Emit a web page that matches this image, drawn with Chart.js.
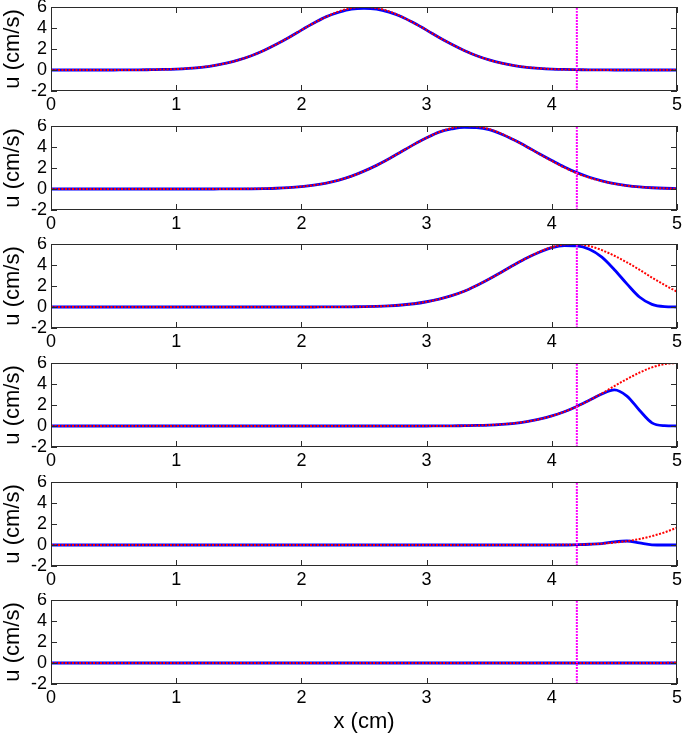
<!DOCTYPE html>
<html>
<head>
<meta charset="utf-8">
<script src="https://cdn.jsdelivr.net/npm/chart.js@4.4.0/dist/chart.umd.min.js"></script>
<style>
  body { margin: 0; background: #fff; width: 682px; height: 737px; overflow: hidden; position: relative; }
  .panel { position: absolute; left: 0; width: 682px; }
</style>
</head>
<body>
<script>
// x positions (cm)
const xs = [0,0.1,0.2,0.3,0.4,0.5,0.6,0.7,0.8,0.9,1,1.1,1.2,1.3,1.4,1.5,1.6,1.7,1.8,1.9,2,
  2.1,2.2,2.3,2.4,2.5,2.6,2.7,2.8,2.9,3,3.1,3.2,3.3,3.4,3.5,3.6,3.7,3.8,3.9,4,
  4.1,4.2,4.3,4.4,4.5,4.6,4.7,4.8,4.9,5];
const xTicks = [0, 1, 2, 3, 4, 5];
const yTicks = [-2, 0, 2, 4, 6];
const markerX = 4.2;

// u (cm/s), blue = solid, red = dotted
const p1Blue = [0,0,0,0,0,0,0.01,0.01,0.03,0.05,0.09,0.16,0.26,0.42,0.65,0.96,1.36,1.86,2.45,3.1,3.8,
  4.47,5.08,5.5,5.8,5.88,5.8,5.52,5.08,4.47,3.8,3.1,2.45,1.86,1.36,0.96,0.65,0.42,0.26,0.16,0.09,
  0.05,0.03,0.01,0.01,0,0,0,0,0,0];
const p1Red = [0,0,0,0,0,0,0.01,0.01,0.03,0.05,0.09,0.16,0.26,0.42,0.65,0.96,1.36,1.86,2.45,3.1,3.8,
  4.47,5.08,5.58,5.9,6,5.9,5.58,5.08,4.47,3.8,3.1,2.45,1.86,1.36,0.96,0.65,0.42,0.26,0.16,0.09,
  0.05,0.03,0.01,0.01,0,0,0,0,0,0];
const p2Blue = [0,0,0,0,0,0,0,0,0,0,0,0,0,0,0.01,0.01,0.02,0.04,0.07,0.13,0.23,
  0.37,0.57,0.85,1.22,1.7,2.25,2.88,3.57,4.25,4.88,5.42,5.72,5.88,5.85,5.65,5.22,4.66,4.03,3.36,2.72,
  2.1,1.56,1.12,0.78,0.52,0.33,0.2,0.12,0.07,0.04];
const p2Red = [0,0,0,0,0,0,0,0,0,0,0,0,0,0,0.01,0.01,0.02,0.04,0.07,0.13,0.23,
  0.37,0.57,0.85,1.22,1.7,2.25,2.88,3.57,4.25,4.88,5.42,5.8,5.99,5.95,5.7,5.25,4.67,4.02,3.33,2.67,
  2.05,1.5,1.08,0.75,0.5,0.31,0.19,0.11,0.06,0.03];
const p3Blue = [0,0,0,0,0,0,0,0,0,0,0,0,0,0,0,0,0,0,0,0,0,
  0,0.01,0.01,0.02,0.03,0.06,0.11,0.19,0.31,0.5,0.75,1.08,1.5,2.05,2.67,3.33,4.02,4.67,5.22,5.65,
  5.85,5.82,5.5,4.75,3.55,2.2,0.95,0.25,0.03,0];
const p3Red = [0,0,0,0,0,0,0,0,0,0,0,0,0,0,0,0,0,0,0,0,0,
  0,0.01,0.01,0.02,0.03,0.06,0.11,0.19,0.31,0.5,0.75,1.08,1.5,2.05,2.67,3.33,4.02,4.67,5.25,5.7,
  5.95,5.99,5.8,5.42,4.88,4.25,3.55,2.8,2.1,1.45];
const p4Blue = [0,0,0,0,0,0,0,0,0,0,0,0,0,0,0,0,0,0,0,0,0,
  0,0,0,0,0,0,0,0,0,0,0.01,0.01,0.03,0.05,0.09,0.16,0.26,0.42,0.65,0.96,
  1.36,1.86,2.45,3.05,3.45,2.85,1.5,0.3,0.03,0];
const p4Red = [0,0,0,0,0,0,0,0,0,0,0,0,0,0,0,0,0,0,0,0,0,
  0,0,0,0,0,0,0,0,0,0,0.01,0.01,0.03,0.05,0.09,0.16,0.26,0.42,0.65,0.96,
  1.36,1.86,2.45,3.1,3.8,4.47,5.08,5.58,5.9,6];
const p5Blue = [0,0,0,0,0,0,0,0,0,0,0,0,0,0,0,0,0,0,0,0,0,
  0,0,0,0,0,0,0,0,0,0,0,0,0,0,0,0,0,0,0,0,
  0,0.03,0.07,0.14,0.3,0.38,0.2,0.02,0,0];
const p5Red = [0,0,0,0,0,0,0,0,0,0,0,0,0,0,0,0,0,0,0,0,0,
  0,0,0,0,0,0,0,0,0,0,0,0,0,0,0,0,0,0,0,0.01,
  0.02,0.04,0.07,0.13,0.23,0.37,0.57,0.85,1.2,1.65];
const p6Blue = [0,0,0,0,0,0,0,0,0,0,0,0,0,0,0,0,0,0,0,0,0,
  0,0,0,0,0,0,0,0,0,0,0,0,0,0,0,0,0,0,0,0,
  0,0,0,0,0,0,0,0,0,0];
const p6Red = [0,0,0,0,0,0,0,0,0,0,0,0,0,0,0,0,0,0,0,0,0,
  0,0,0,0,0,0,0,0,0,0,0,0,0,0,0,0,0,0,0,0,
  0,0,0,0,0,0,0,0,0.01,0.02,0.03];

const panels = [[p1Blue, p1Red], [p2Blue, p2Red], [p3Blue, p3Red],
                [p4Blue, p4Red], [p5Blue, p5Red], [p6Blue, p6Red]];

const tops = [7, 126, 244, 363, 482, 600];
const plotH = 84;
const fontFam = "'Liberation Sans', Arial, sans-serif";

function pts(vals) {
  return xs.map((x, i) => ({ x: x, y: vals[i] }));
}

// matlab-ish box with inward ticks
const boxPlugin = {
  id: 'box',
  afterDraw(chart) {
    const { ctx, chartArea: a, scales } = chart;
    ctx.save();
    ctx.strokeStyle = '#2b2b2b';
    ctx.lineWidth = 1;
    ctx.strokeRect(a.left + 0.5, a.top + 0.5, a.right - a.left - 1, a.bottom - a.top - 1);
    ctx.beginPath();
    xTicks.forEach(v => {
      const px = Math.round(scales.x.getPixelForValue(v)) + 0.5;
      ctx.moveTo(px, a.bottom); ctx.lineTo(px, a.bottom - 6);
      ctx.moveTo(px, a.top); ctx.lineTo(px, a.top + 6);
    });
    yTicks.forEach(v => {
      const py = Math.round(scales.y.getPixelForValue(v)) + 0.5;
      ctx.moveTo(a.left, py); ctx.lineTo(a.left + 6, py);
      ctx.moveTo(a.right, py); ctx.lineTo(a.right - 6, py);
    });
    ctx.stroke();
    ctx.restore();
  }
};

panels.forEach((pair, k) => {
  const last = k === panels.length - 1;
  const h = last ? 143 : 121;
  const div = document.createElement('div');
  div.className = 'panel';
  div.style.top = (tops[k] - 7) + 'px';
  div.style.height = h + 'px';
  const cv = document.createElement('canvas');
  cv.width = 682; cv.height = h;
  div.appendChild(cv);
  document.body.appendChild(div);

  new Chart(cv, {
    type: 'line',
    data: {
      datasets: [
        { data: pts(pair[0]), borderColor: '#0000ff', borderWidth: 2.8, order: 2 },
        { data: pts(pair[1]), borderColor: '#ff0000', borderWidth: 2, borderDash: [2, 1.5], order: 1 },
        { data: [{ x: markerX, y: yTicks[0] }, { x: markerX, y: yTicks[yTicks.length - 1] }],
          borderColor: '#ff00ff', borderWidth: 2, borderDash: [2, 1], order: 0 }
      ]
    },
    options: {
      responsive: false,
      animation: false,
      devicePixelRatio: 1,
      layout: { padding: { top: 7, right: 5, left: 0, bottom: 0 } },
      elements: {
        point: { radius: 0 },
        line: { cubicInterpolationMode: 'monotone', fill: false }
      },
      plugins: { legend: { display: false }, tooltip: { enabled: false } },
      scales: {
        x: {
          type: 'linear', min: 0, max: 5,
          grid: { display: false, drawTicks: false },
          border: { display: false },
          ticks: { stepSize: 1, padding: 3, color: '#000', maxRotation: 0, autoSkip: false,
                   font: { family: fontFam, size: 18 } },
          title: { display: last, text: 'x (cm)', color: '#000', padding: { top: 0, bottom: 1 },
                   font: { family: fontFam, size: 22 } },
          afterFit(s) { s.height = h - 7 - plotH; s.paddingLeft = 0; s.paddingRight = 0; }
        },
        y: {
          min: -2, max: 6,
          grid: { display: false, drawTicks: false },
          border: { display: false },
          ticks: { stepSize: 2, padding: 4, color: '#000', autoSkip: false,
                   font: { family: fontFam, size: 18 } },
          title: { display: true, text: 'u (cm/s)', color: '#000', padding: { top: 0, bottom: 0 },
                   font: { family: fontFam, size: 22 } },
          afterFit(s) { s.width = 51; s.paddingTop = 0; s.paddingBottom = 0; }
        }
      }
    },
    plugins: [boxPlugin]
  });
});
</script>
</body>
</html>
